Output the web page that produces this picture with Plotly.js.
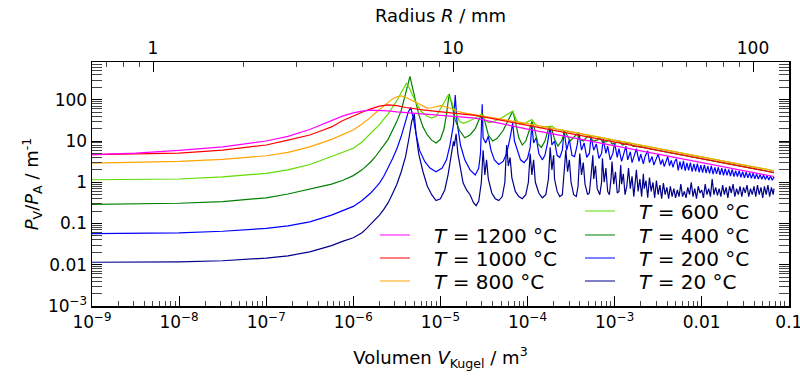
<!DOCTYPE html>
<html><head><meta charset="utf-8">
<script src="https://cdn.plot.ly/plotly-3.0.1.min.js"></script>
<style>html,body{margin:0;padding:0;background:#fff}</style>
</head><body>
<div id="chart" style="width:800px;height:377px"></div>
<script>
// ---- data: [volume V (m^3), P_V/P_A (1/m)] ----
const T1200 = [[1e-9,4.7],[3.162e-9,5.1],[1e-8,5.9],[3.162e-8,7.2],[1e-7,10],[1.778e-7,13],[3.162e-7,19],[4.217e-7,24],[5.623e-7,31],[7.499e-7,40],[1e-6,48],[1.122e-6,51],[1.259e-6,53],[1.585e-6,56],[1.995e-6,56],[2.512e-6,54],[3.162e-6,51],[5.012e-6,47],[7.943e-6,44.5],[1.259e-5,41],[1.995e-5,38],[2.512e-5,36],[3.981e-5,29],[6.310e-5,23.5],[1e-4,19.5],[3.162e-4,12.2],[1e-3,7.6],[3.162e-3,4.8],[1e-2,3.0],[3.162e-2,1.9],[6.761e-2,1.38]];

const T1000 = [[1e-9,4.7],[3.162e-9,4.8],[1e-8,5.1],[3.162e-8,6.0],[1e-7,8.0],[1.778e-7,10.5],[3.162e-7,14],[4.217e-7,17.5],[5.623e-7,22],[7.499e-7,31],[1e-6,41],[1.122e-6,46],[1.259e-6,50],[1.585e-6,60],[1.995e-6,70],[2.512e-6,75],[3.162e-6,72],[3.981e-6,65],[5.012e-6,60],[6.310e-6,57],[7.943e-6,54],[1e-5,51],[1.585e-5,47],[2.512e-5,42],[3.981e-5,35],[6.310e-5,29],[1e-4,24],[3.162e-4,15],[1e-3,9.5],[3.162e-3,5.9],[1e-2,3.7],[3.162e-2,2.34],[6.761e-2,1.72]];

const T800 = [[1e-9,2.9],[3.162e-9,3.0],[1e-8,3.2],[3.162e-8,3.6],[1e-7,4.4],[1.778e-7,5.3],[3.162e-7,7.2],[5.623e-7,11],[7.499e-7,14.5],[1e-6,18.5],[1.259e-6,26],[1.413e-6,31],[1.585e-6,38],[1.778e-6,47],[1.995e-6,58],[2.239e-6,72],[2.512e-6,88],[2.818e-6,105],[3.162e-6,118],[3.548e-6,124],[3.981e-6,115],[5.012e-6,90],[6.310e-6,68],[7.079e-6,63],[7.943e-6,64],[1e-5,72],[1.259e-5,64],[1.585e-5,52],[1.995e-5,47],[3.162e-5,40],[6.310e-5,32],[1e-4,26.5],[3.162e-4,16.6],[1e-3,10.4],[3.162e-3,6.6],[1e-2,4.1],[3.162e-2,2.6],[6.761e-2,1.9]];

const T600 = [[1e-9,1.15],[3.162e-9,1.17],[1e-8,1.2],[3.162e-8,1.35],[1e-7,1.65],[1.778e-7,2.0],[3.162e-7,2.7],[5.623e-7,4.2],[7.499e-7,5.3],[1e-6,6.7],[1.259e-6,9.5],[1.413e-6,12],[1.585e-6,15],[1.778e-6,19.5],[1.995e-6,25],[2.239e-6,34],[2.512e-6,45],[2.818e-6,66],[3.162e-6,95],[3.548e-6,150],[3.802e-6,200],[4.074e-6,250],[4.365e-6,200],[4.677e-6,140],[5.248e-6,85],[6.026e-6,52],[7.079e-6,40],[7.943e-6,36],[8.913e-6,40],[1e-5,60],[1.122e-5,95],[1.230e-5,130],[1.349e-5,90],[1.479e-5,50],[1.660e-5,30],[1.820e-5,27],[2.042e-5,29],[2.399e-5,34],[2.754e-5,40],[2.951e-5,45],[3.162e-5,35],[3.548e-5,28],[3.981e-5,29],[5.012e-5,36],[6.026e-5,45],[6.761e-5,53],[7.413e-5,33],[8.128e-5,26],[9.333e-5,27],[1.072e-4,31],[1.122e-4,33],[1.230e-4,25],[1.380e-4,21],[1.585e-4,22],[1.905e-4,23],[2.138e-4,19],[2.512e-4,18.3],[3.162e-4,16.6],[1e-3,10.4],[3.162e-3,6.6],[1e-2,4.1],[3.162e-2,2.6],[6.761e-2,1.9]];

const T400 = [[1e-9,0.29],[3.162e-9,0.30],[1e-8,0.31],[3.162e-8,0.34],[1e-7,0.42],[1.778e-7,0.52],[3.162e-7,0.68],[5.623e-7,0.9],[7.499e-7,1.1],[1e-6,1.45],[1.259e-6,2.0],[1.413e-6,2.5],[1.585e-6,3.1],[1.778e-6,4.1],[1.995e-6,5.5],[2.239e-6,7.8],[2.512e-6,11],[2.818e-6,18],[3.162e-6,30],[3.548e-6,55],[3.981e-6,130],[4.266e-6,250],[4.467e-6,368],[4.786e-6,200],[5.129e-6,100],[5.623e-6,45],[6.310e-6,22],[7.079e-6,14],[7.943e-6,10.5],[8.913e-6,9],[1e-5,11],[1.096e-5,19],[1.175e-5,45],[1.259e-5,138],[1.349e-5,80],[1.479e-5,32],[1.660e-5,18],[1.905e-5,12],[2.188e-5,14],[2.512e-5,20],[2.818e-5,35],[3.020e-5,47],[3.236e-5,30],[3.548e-5,14],[3.981e-5,10],[4.467e-5,11.5],[5.248e-5,18],[6.310e-5,38],[6.761e-5,53],[7.244e-5,30],[7.943e-5,12],[8.710e-5,8],[9.550e-5,10],[1.047e-4,18],[1.122e-4,30],[1.202e-4,20],[1.318e-4,8.5],[1.445e-4,7],[1.585e-4,10],[1.738e-4,20],[1.905e-4,19],[2.042e-4,11],[2.239e-4,7.5],[2.455e-4,10],[2.692e-4,17],[3.090e-4,10],[3.388e-4,12],[3.715e-4,15],[3.981e-4,11],[4.365e-4,10],[4.786e-4,12.5],[5.129e-4,13.5],[5.623e-4,10],[6.310e-4,10.5],[6.761e-4,12],[7.244e-4,9.5],[7.943e-4,9.5],[8.710e-4,11],[9.333e-4,8.5],[1.023e-3,9],[1.122e-3,10],[1.230e-3,8],[1.349e-3,8.5],[1.479e-3,9],[1.622e-3,7.5],[1.995e-3,7.2],[3.162e-3,5.9],[1e-2,3.7],[3.162e-2,2.34],[6.761e-2,1.72]];

const T200 = [[1e-9,0.057],[3.162e-9,0.058],[1e-8,0.059],[3.162e-8,0.065],[1e-7,0.076],[1.778e-7,0.088],[3.162e-7,0.11],[5.623e-7,0.16],[7.499e-7,0.2],[1e-6,0.26],[1.259e-6,0.36],[1.413e-6,0.44],[1.585e-6,0.55],[1.778e-6,0.72],[1.995e-6,0.95],[2.239e-6,1.4],[2.512e-6,2.2],[2.818e-6,3.7],[3.162e-6,6.5],[3.548e-6,13],[3.981e-6,30],[4.266e-6,50],[4.571e-6,65],[4.898e-6,35],[5.248e-6,15],[5.754e-6,6],[6.607e-6,3.2],[7.586e-6,2.2],[8.913e-6,1.8],[1.047e-5,2.2],[1.175e-5,3.5],[1.288e-5,8],[1.413e-5,25],[1.479e-5,130],[1.549e-5,30],[1.698e-5,8],[1.905e-5,3.5],[2.188e-5,2.0],[2.512e-5,1.5],[2.754e-5,2.2],[2.884e-5,5],[3.020e-5,78],[3.090e-5,12],[3.311e-5,9],[3.548e-5,13],[3.802e-5,6],[4.169e-5,3.5],[4.677e-5,2.7],[5.248e-5,3.2],[5.754e-5,5],[6.310e-5,12],[6.761e-5,27],[7.079e-5,10],[7.586e-5,6],[8.318e-5,3.5],[9.120e-5,3.0],[1e-4,3.8],[1.072e-4,7],[1.122e-4,24],[1.175e-4,9],[1.259e-4,12],[1.349e-4,5],[1.479e-4,3.5],[1.585e-4,4.5],[1.698e-4,9],[1.820e-4,23],[1.905e-4,8],[2.042e-4,10],[2.188e-4,4.5],[2.344e-4,4],[2.512e-4,6],[2.630e-4,18],[2.818e-4,6],[3.020e-4,11],[3.236e-4,4.5],[3.467e-4,4.2],[3.715e-4,8],[3.890e-4,16],[4.169e-4,6],[4.467e-4,9],[4.786e-4,4],[5.129e-4,5],[5.370e-4,13],[5.754e-4,6],[6.166e-4,8.5],[6.607e-4,3.8],[7.079e-4,5],[7.413e-4,11],[7.943e-4,5],[8.318e-4,7.5],[8.913e-4,3.5],[9.550e-4,5],[1e-3,9],[1.072e-3,4],[1.122e-3,6.5],[1.202e-3,3.2],[1.259e-3,4.5],[1.349e-3,7.5],[1.413e-3,3.5],[1.514e-3,5.5],[1.585e-3,3.0],[1.698e-3,4.5],[1.778e-3,6.5],[1.905e-3,3.2],[1.995e-3,4.8],[2.138e-3,2.8],[2.239e-3,4.3],[2.399e-3,5.8],[2.512e-3,3.0],[2.692e-3,4.2],[2.818e-3,2.6],[3.020e-3,3.8],[3.162e-3,4.8],[3.388e-3,2.7],[3.548e-3,3.6],[3.715e-3,2.4],[3.890e-3,3.4],[4.074e-3,4.2],[4.266e-3,2.5],[4.467e-3,3.4],[4.677e-3,2.3],[4.898e-3,3.2],[5.129e-3,3.7],[5.370e-3,1.95],[5.623e-3,3.15],[5.888e-3,2.05],[6.166e-3,3.3],[6.457e-3,1.9],[6.761e-3,2.95],[7.079e-3,1.95],[7.413e-3,3.0],[7.762e-3,1.8],[8.128e-3,2.8],[8.511e-3,1.85],[8.913e-3,2.85],[9.333e-3,1.75],[9.772e-3,2.6],[1.023e-2,1.72],[1.072e-2,2.65],[1.122e-2,1.68],[1.175e-2,2.45],[1.230e-2,1.65],[1.288e-2,2.5],[1.349e-2,1.58],[1.413e-2,2.3],[1.479e-2,1.6],[1.549e-2,2.3],[1.622e-2,1.52],[1.698e-2,2.2],[1.778e-2,1.48],[1.862e-2,2.15],[1.950e-2,1.47],[2.042e-2,2.05],[2.138e-2,1.42],[2.239e-2,2.05],[2.344e-2,1.38],[2.455e-2,1.9],[2.570e-2,1.37],[2.692e-2,1.9],[2.818e-2,1.32],[2.951e-2,1.8],[3.090e-2,1.28],[3.236e-2,1.75],[3.388e-2,1.28],[3.548e-2,1.7],[3.715e-2,1.24],[3.890e-2,1.65],[4.074e-2,1.22],[4.266e-2,1.6],[4.467e-2,1.19],[4.677e-2,1.55],[4.898e-2,1.18],[5.129e-2,1.5],[5.370e-2,1.16],[5.623e-2,1.45],[5.888e-2,1.13],[6.166e-2,1.42],[6.457e-2,1.12],[6.761e-2,1.35]];

const T20 = [[1e-9,0.0115],[3.162e-9,0.0116],[1e-8,0.0118],[3.162e-8,0.0125],[1e-7,0.0145],[1.778e-7,0.0165],[3.162e-7,0.0205],[5.623e-7,0.029],[7.499e-7,0.037],[1e-6,0.045],[1.259e-6,0.06],[1.413e-6,0.075],[1.585e-6,0.095],[1.778e-6,0.125],[1.995e-6,0.16],[2.239e-6,0.22],[2.512e-6,0.32],[2.818e-6,0.53],[3.162e-6,0.9],[3.548e-6,1.8],[3.981e-6,4.2],[4.365e-6,12],[4.677e-6,30],[5.012e-6,45],[5.248e-6,15],[5.623e-6,5],[6.310e-6,1.8],[7.079e-6,0.8],[7.943e-6,0.5],[8.913e-6,0.36],[1e-5,0.4],[1.122e-5,0.65],[1.230e-5,1.6],[1.318e-5,4],[1.413e-5,9.8],[1.445e-5,7.5],[1.514e-5,15],[1.585e-5,5],[1.698e-5,2],[1.820e-5,0.97],[1.995e-5,0.65],[2.188e-5,0.5],[2.399e-5,0.32],[2.570e-5,0.27],[2.754e-5,0.35],[2.951e-5,1.0],[3.090e-5,6],[3.236e-5,1.5],[3.388e-5,3.5],[3.548e-5,1.2],[3.890e-5,0.55],[4.266e-5,0.4],[4.677e-5,0.36],[5.129e-5,0.45],[5.495e-5,1.0],[5.754e-5,8],[6.026e-5,2.5],[6.310e-5,4],[6.607e-5,1.3],[7.244e-5,0.6],[7.943e-5,0.45],[8.710e-5,0.4],[9.550e-5,0.5],[1.023e-4,1.0],[1.072e-4,5],[1.122e-4,1.5],[1.175e-4,3.5],[1.230e-4,1.0],[1.349e-4,0.55],[1.479e-4,0.42],[1.622e-4,0.5],[1.738e-4,1.2],[1.820e-4,7],[1.905e-4,2],[1.995e-4,4.5],[2.042e-4,1.2],[2.188e-4,0.6],[2.344e-4,0.45],[2.512e-4,0.5],[2.630e-4,1.5],[2.754e-4,6],[2.884e-4,1.8],[3.020e-4,3.5],[3.162e-4,1],[3.388e-4,0.5],[3.631e-4,0.45],[3.802e-4,0.8],[3.981e-4,5],[4.169e-4,1.5],[4.365e-4,3],[4.571e-4,0.9],[4.898e-4,0.5],[5.129e-4,0.55],[5.370e-4,1.5],[5.623e-4,4.5],[5.754e-4,1.2],[6.026e-4,2.5],[6.310e-4,0.7],[6.761e-4,0.5],[7.079e-4,1.0],[7.244e-4,3.8],[7.586e-4,1.0],[7.943e-4,2.2],[8.318e-4,0.6],[8.710e-4,0.5],[9.120e-4,1.3],[9.333e-4,3.2],[9.772e-4,0.9],[1.023e-3,1.8],[1.072e-3,0.55],[1.122e-3,0.6],[1.175e-3,2.6],[1.202e-3,0.9],[1.259e-3,1.6],[1.318e-3,0.5],[1.380e-3,0.8],[1.445e-3,2.2],[1.514e-3,0.7],[1.585e-3,1.4],[1.660e-3,0.45],[1.738e-3,1.0],[1.778e-3,2.0],[1.862e-3,0.6],[1.950e-3,1.2],[2.042e-3,0.45],[2.138e-3,1.6],[2.188e-3,0.7],[2.291e-3,1.1],[2.399e-3,0.42],[2.512e-3,1.3],[2.630e-3,0.6],[2.754e-3,1.0],[2.884e-3,0.42],[3.020e-3,1.1],[3.162e-3,0.5],[3.311e-3,0.85],[3.467e-3,0.4],[3.631e-3,0.95],[3.802e-3,0.5],[3.981e-3,0.75],[4.169e-3,0.4],[4.365e-3,0.8],[4.571e-3,0.45],[4.786e-3,0.7],[5.012e-3,0.42],[5.248e-3,0.65],[5.495e-3,0.45],[5.754e-3,0.9],[6.026e-3,0.45],[6.310e-3,0.6],[6.607e-3,0.42],[6.918e-3,0.75],[7.244e-3,0.5],[7.586e-3,1.0],[7.943e-3,0.45],[8.318e-3,0.7],[8.710e-3,0.4],[9.120e-3,0.8],[9.550e-3,0.55],[1e-2,0.65],[1.047e-2,0.42],[1.096e-2,0.9],[1.148e-2,0.5],[1.202e-2,0.7],[1.259e-2,0.45],[1.318e-2,1.2],[1.380e-2,0.5],[1.445e-2,0.75],[1.514e-2,0.48],[1.585e-2,0.7],[1.660e-2,0.45],[1.738e-2,0.85],[1.820e-2,0.5],[1.905e-2,0.75],[1.995e-2,0.42],[2.089e-2,0.8],[2.188e-2,0.55],[2.291e-2,0.9],[2.399e-2,0.45],[2.512e-2,0.7],[2.630e-2,0.5],[2.754e-2,0.8],[2.884e-2,0.45],[3.020e-2,0.75],[3.162e-2,0.55],[3.311e-2,0.85],[3.467e-2,0.45],[3.631e-2,0.7],[3.802e-2,0.5],[3.981e-2,0.8],[4.169e-2,0.45],[4.365e-2,0.85],[4.571e-2,0.5],[4.786e-2,0.75],[5.012e-2,0.42],[5.248e-2,0.8],[5.495e-2,0.5],[5.754e-2,0.85],[6.026e-2,0.45],[6.310e-2,0.75],[6.607e-2,0.5],[6.761e-2,0.7]];

const seriesData = [T20, T200, T400, T600, T800, T1000, T1200];
const temperatures = [20, 200, 400, 600, 800, 1000, 1200];
const colors = ['#00008b', '#0000ff', '#008000', '#5fdc00', '#ffa500', '#ff0000', '#ff00ff'];

// axis tick labels
const xTickVals = [1e-9, 1e-8, 1e-7, 1e-6, 1e-5, 1e-4, 1e-3, 1e-2, 1e-1];
const xTickText = ['10<sup>\u22129</sup>', '10<sup>\u22128</sup>', '10<sup>\u22127</sup>', '10<sup>\u22126</sup>', '10<sup>\u22125</sup>', '10<sup>\u22124</sup>', '10<sup>\u22123</sup>', '0.01', '0.1'];
const yTickVals = [1e-3, 1e-2, 1e-1, 1, 10, 100];
const yTickText = ['10<sup>\u22123</sup>', '0.01', '0.1', '1', '10', '100'];
const rTickVals = [1, 10, 100];
const rTickText = ['1', '10', '100'];

// ---- layout helpers (positions only) ----
function minorTicks(lo, hi) {
  const out = [];
  for (let e = lo; e <= hi; e++) for (let m = 2; m <= 9; m++) out.push(m * Math.pow(10, e));
  return out;
}
const W = 800, H = 377, L = 92, R = 11, T = 62, B = 71;
const pw = W - L - R, ph = H - T - B;
const px2x = p => (p - L) / pw;
const py2y = p => (H - B - p) / ph;

// legend placement (two columns as in reference)
const legendPos = {
  1200: [380, 235], 1000: [380, 258], 800: [380, 281],
  600: [585, 211], 400: [585, 235], 200: [585, 258], 20: [585, 281]
};

const font = {family: 'DejaVu Sans, sans-serif', color: '#000'};
const traces = [];
const layout = {
  width: W, height: H,
  margin: {l: L, r: R, t: T, b: B, pad: 0},
  paper_bgcolor: '#fff', plot_bgcolor: '#fff',
  font: Object.assign({size: 17}, font),
  showlegend: true,
  xaxis: {
    type: 'log', range: [-9, -0.998], tickmode: 'array', tickvals: xTickVals, ticktext: xTickText,
    ticks: 'inside', ticklen: 10, tickwidth: 1, tickcolor: '#000', ticklabeloverflow: 'allow',
    showline: true, linecolor: '#000', linewidth: 1.5, mirror: false,
    showgrid: false, zeroline: false, tickfont: Object.assign({size: 17}, font),
    minor: {tickmode: 'array', tickvals: minorTicks(-9, -2), ticks: 'inside', ticklen: 5, tickwidth: 1, tickcolor: '#444', showgrid: false},
    title: {text: 'Volumen <i>V</i><sub>Kugel</sub> / m<sup>3</sup>', font: Object.assign({size: 18}, font), standoff: 20},
    automargin: false
  },
  xaxis2: {
    type: 'log', overlaying: 'x', side: 'top', anchor: 'y',
    range: [(L - 153) / 300, (L + pw - 153) / 300],
    tickmode: 'array', tickvals: rTickVals, ticktext: rTickText,
    ticks: 'inside', ticklen: 10, tickwidth: 1, tickcolor: '#000',
    showline: true, linecolor: '#000', linewidth: 1.5,
    showgrid: false, zeroline: false, tickfont: Object.assign({size: 17}, font),
    minor: {tickmode: 'array', tickvals: [0.7, 0.8, 0.9].concat(minorTicks(0, 1)), ticks: 'inside', ticklen: 5, tickwidth: 1, tickcolor: '#444', showgrid: false},
    title: {text: 'Radius <i>R</i> / mm', font: Object.assign({size: 18}, font), standoff: 10},
    automargin: false
  },
  yaxis: {
    type: 'log', range: [-3, 2.916], tickmode: 'array', tickvals: yTickVals, ticktext: yTickText,
    ticks: 'inside', ticklen: 10, tickwidth: 1, tickcolor: '#000',
    showline: true, linecolor: '#000', linewidth: 1.5, mirror: 'allticks',
    showgrid: false, zeroline: false, tickfont: Object.assign({size: 17}, font),
    minor: {tickmode: 'array', tickvals: minorTicks(-3, 2), ticks: 'inside', ticklen: 5, tickwidth: 1, tickcolor: '#444', showgrid: false},
    title: {text: '<i>P</i><sub>V</sub>/<i>P</i><sub>A</sub> / m<sup>-1</sup>', font: Object.assign({size: 18}, font), standoff: 4},
    automargin: false
  }
};

seriesData.forEach((d, i) => {
  const t = temperatures[i];
  const legId = i === 0 ? 'legend' : 'legend' + (i + 1);
  traces.push({
    type: 'scatter', mode: 'lines',
    x: d.map(p => p[0]), y: d.map(p => p[1]),
    line: {color: colors[i], width: 1.2},
    name: '\u00a0\u00a0\u00a0<i>T</i> = ' + t + ' \u00b0C',
    legend: legId, hoverinfo: 'skip'
  });
  const pos = legendPos[t];
  layout[legId] = {
    x: px2x(pos[0] - 5), y: py2y(pos[1]), xanchor: 'left', yanchor: 'middle',
    bgcolor: 'rgba(0,0,0,0)', borderwidth: 0,
    font: Object.assign({size: 20}, font), itemwidth: 30
  };
});
// invisible trace so the radius axis is instantiated
traces.push({type: 'scatter', mode: 'lines', x: [1, 100], y: [1, 1], xaxis: 'x2', yaxis: 'y', line: {width: 0}, showlegend: false, hoverinfo: 'skip', opacity: 0});

Plotly.newPlot('chart', traces, layout, {staticPlot: true, displayModeBar: false});
</script>
</body></html>
